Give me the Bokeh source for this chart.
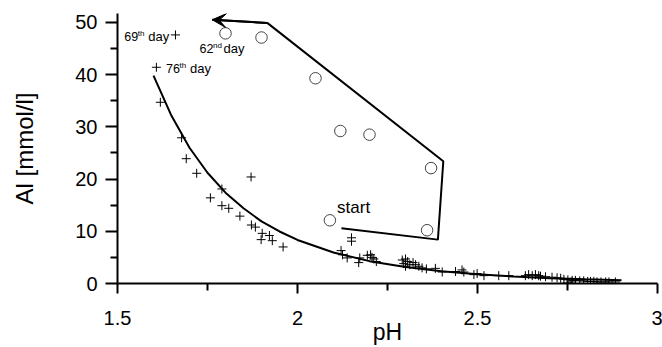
from bokeh.plotting import figure
from bokeh.models import Range1d, FixedTicker, Arrow, VeeHead
from bokeh.core.properties import value
from bokeh.embed import file_html
from bokeh.resources import INLINE

FONT = "Liberation Sans"

# cross (+) measurements: pH, Al [mmol/l]
plus_ph = [1.661, 1.608, 1.619, 1.678, 1.691, 1.720, 1.758, 1.790, 1.790, 1.809,
           1.840, 1.871, 1.872, 1.883, 1.902, 1.922, 1.899, 1.930, 1.960,
           2.150, 2.150, 2.121, 2.125, 2.138, 2.173, 2.170, 2.194, 2.203, 2.207,
           2.212, 2.219, 2.291, 2.300, 2.306, 2.312, 2.321, 2.328, 2.337, 2.346,
           2.358, 2.383, 2.295, 2.300, 2.402, 2.439, 2.457, 2.462, 2.490, 2.499,
           2.518, 2.559, 2.587, 2.633, 2.642, 2.652, 2.661, 2.670, 2.675, 2.689,
           2.707, 2.721, 2.731, 2.740, 2.751, 2.763, 2.772, 2.784, 2.795, 2.806,
           2.814, 2.823, 2.832, 2.843, 2.856, 2.865, 2.883, 2.749, 2.760]
plus_al = [47.6, 41.4, 34.7, 27.9, 23.9, 21.1, 16.4, 18.1, 14.9, 14.4,
           12.9, 20.4, 11.2, 10.8, 9.6, 9.2, 8.4, 8.2, 7.0,
           8.75, 8.1, 6.3, 5.5, 4.9, 4.9, 4.0, 5.4, 5.5, 5.0,
           4.7, 4.2, 4.5, 4.7, 4.2, 3.6, 4.0, 3.6, 3.3, 3.0,
           2.8, 2.9, 3.8, 3.3, 2.2, 2.3, 2.6, 2.2, 1.7, 1.9,
           1.5, 1.5, 1.5, 1.5, 1.7, 1.5, 1.7, 1.5, 1.4, 1.3,
           1.2, 1.1, 1.0, 0.8, 0.7, 0.6, 0.6, 0.5, 0.5, 0.4,
           0.4, 0.4, 0.3, 0.3, 0.3, 0.3, 0.3, 0.1, 0.3]

# open circle measurements
circ_ph = [1.80, 1.90, 2.05, 2.119, 2.20, 2.371, 2.36, 2.09]
circ_al = [47.9, 47.1, 39.3, 29.2, 28.5, 22.1, 10.2, 12.1]

# fitted curve
fit_ph = [1.60, 1.65, 1.70, 1.75, 1.80, 1.85, 1.90, 1.95, 2.00, 2.10,
          2.20, 2.30, 2.40, 2.50, 2.60, 2.70, 2.80, 2.90]
fit_al = [39.8, 32.1, 26.0, 21.2, 17.4, 14.4, 11.9, 9.96, 8.34, 5.93,
          4.28, 3.14, 2.33, 1.75, 1.33, 1.02, 0.79, 0.62]

# trajectory path (start -> end with arrow)
path_ph = [2.122, 2.390, 2.405, 1.916, 1.763]
path_al = [10.6, 8.4, 23.4, 49.9, 50.5]

# annotations
day_num = ["69", "62", "76"]
day_sup = ["th", "nd", "th"]
day_ph = [1.519, 1.728, 1.635]
day_al = [47.3, 45.0, 41.2]
start_ph = [2.110]
start_al = [14.6]

x_ticks = [1.5, 2, 2.5, 3]
x_minor = [1.75, 2.25, 2.75]
y_ticks = [0, 10, 20, 30, 40, 50]
y_minor = [5, 15, 25, 35, 45]

p = figure(width=662, height=347, output_backend="svg", toolbar_location=None,
           x_range=Range1d(1.5, 3.0), y_range=Range1d(0, 51.7),
           min_border_left=117, min_border_right=5, min_border_top=13,
           min_border_bottom=64, x_axis_label="pH", y_axis_label="Al [mmol/l]")
p.outline_line_color = None
p.xgrid.grid_line_color = None
p.ygrid.grid_line_color = None
p.background_fill_color = "white"
p.border_fill_color = "white"

p.xaxis.ticker = FixedTicker(ticks=x_ticks, minor_ticks=x_minor)
p.yaxis.ticker = FixedTicker(ticks=y_ticks, minor_ticks=y_minor)
p.xaxis.major_label_overrides = {1.5: "1.5", 2: "2", 2.5: "2.5", 3: "3"}
for ax in (p.xaxis, p.yaxis):
    ax.axis_line_width = 2
    ax.axis_line_color = "black"
    ax.major_tick_line_width = 2
    ax.minor_tick_line_width = 2
    ax.major_tick_line_color = "black"
    ax.minor_tick_line_color = "black"
    ax.major_tick_in = 0
    ax.minor_tick_in = 0
    ax.major_label_text_font = FONT
    ax.major_label_text_font_size = "20px"
    ax.major_label_text_color = "black"
    ax.axis_label_text_font = FONT
    ax.axis_label_text_font_size = "24px"
    ax.axis_label_text_font_style = "normal"
    ax.axis_label_text_color = "black"
p.xaxis.axis_label_text_font_size = "23px"
p.xaxis.major_tick_out = 10
p.xaxis.minor_tick_out = 7
p.yaxis.major_tick_out = 12
p.yaxis.minor_tick_out = 7
p.xaxis.major_label_standoff = 17
p.xaxis.axis_label_standoff = -9
p.yaxis.major_label_standoff = 8
p.yaxis.axis_label_standoff = 34

# fitted curve
p.line(fit_ph, fit_al, line_color="black", line_width=2)

# trajectory path with arrow head
p.line(path_ph, path_al, line_color="black", line_width=2)
p.add_layout(Arrow(end=VeeHead(size=14, fill_color="black", line_color="black", line_width=1),
                   line_width=2, line_color="black",
                   x_start=path_ph[-2], y_start=path_al[-2],
                   x_end=path_ph[-1], y_end=path_al[-1]))

# data points
p.scatter(plus_ph, plus_al, marker="cross", size=9, line_color="black", line_width=1)
p.scatter(circ_ph, circ_al, marker="circle", size=11.5, fill_color=None,
          line_color="#444444", line_width=1)

# annotations
p.text(x=day_ph, y=day_al, text=day_num, text_font=value(FONT), text_font_size="12.5px",
       text_baseline="middle", text_align="left", text_color="black")
p.text(x=day_ph, y=day_al, text=day_sup, text_font=value(FONT), text_font_size="8px",
       text_baseline="middle", text_align="left", text_color="black",
       x_offset=13.5, y_offset=-3)
p.text(x=day_ph, y=day_al, text=["day"] * len(day_ph), text_font=value(FONT),
       text_font_size="13px", text_baseline="middle", text_align="left",
       text_color="black", x_offset=24)
p.text(x=start_ph, y=start_al, text=["start"], text_font=value(FONT), text_font_size="17px",
       text_baseline="middle", text_align="left", text_color="black")

open("out.html", "w").write(file_html(p, INLINE))
